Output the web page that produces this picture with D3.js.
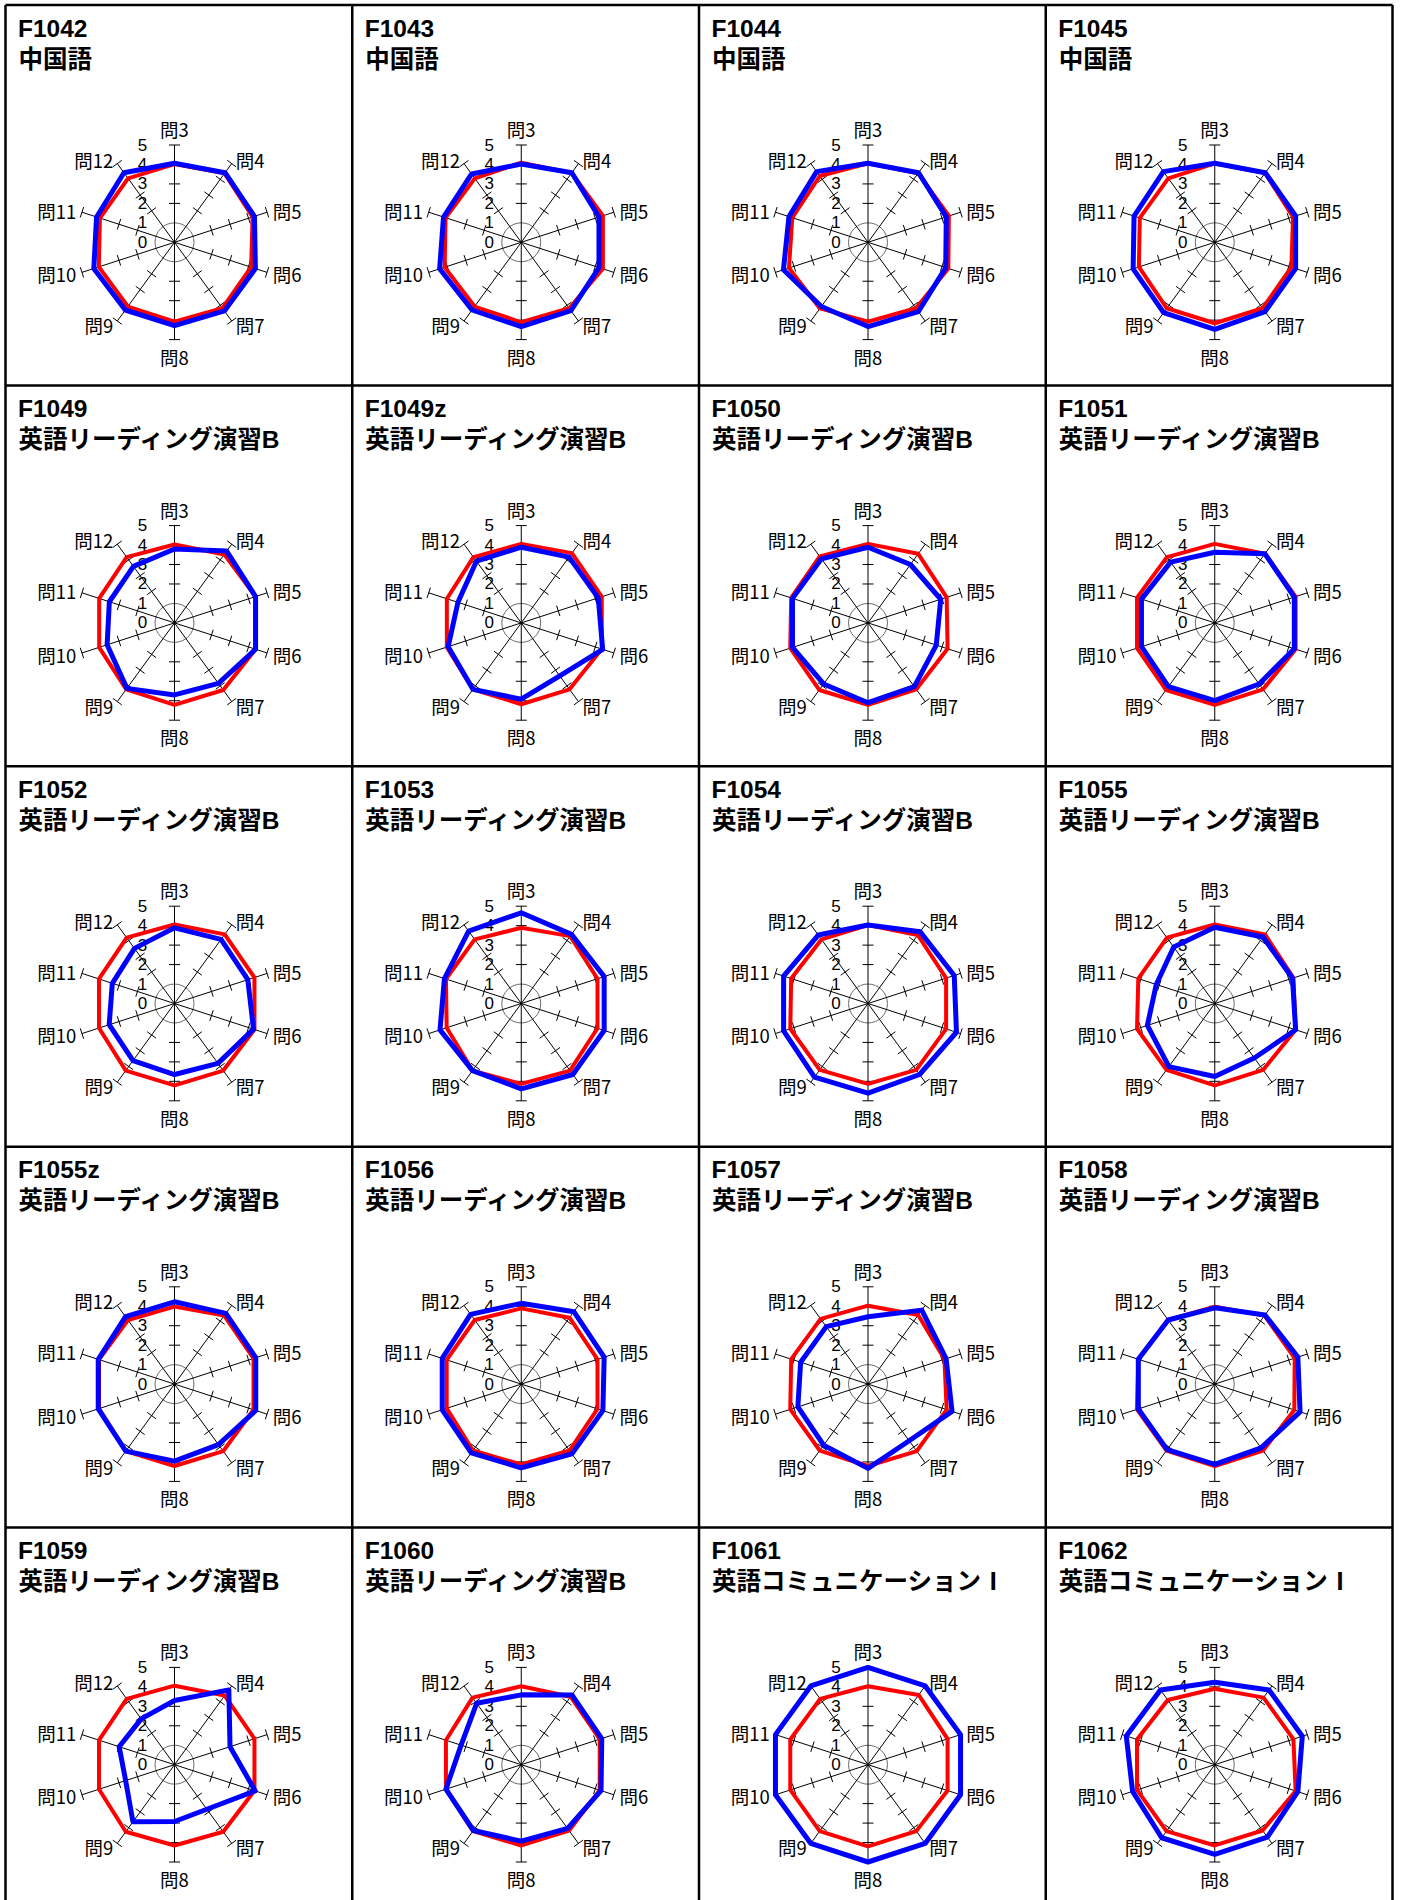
<!DOCTYPE html>
<html>
<head>
<meta charset="utf-8">
<script src="https://cdn.jsdelivr.net/npm/d3@7"></script>
<style>
  html, body { margin: 0; padding: 0; background: #fff; }
  svg { display: block; }
</style>
</head>
<body>
<div id="chart"></div>
<script>
// ---------- data ----------
const questions = ["問3", "問4", "問5", "問6", "問7", "問8", "問9", "問10", "問11", "問12"];
const scaleTicks = [0, 1, 2, 3, 4, 5];
const codes = ["F1042", "F1043", "F1044", "F1045",
               "F1049", "F1049z", "F1050", "F1051",
               "F1052", "F1053", "F1054", "F1055",
               "F1055z", "F1056", "F1057", "F1058",
               "F1059", "F1060", "F1061", "F1062"];
const courses = ["中国語", "中国語", "中国語", "中国語",
                 "英語リーディング演習B", "英語リーディング演習B", "英語リーディング演習B", "英語リーディング演習B",
                 "英語リーディング演習B", "英語リーディング演習B", "英語リーディング演習B", "英語リーディング演習B",
                 "英語リーディング演習B", "英語リーディング演習B", "英語リーディング演習B", "英語リーディング演習B",
                 "英語リーディング演習B", "英語リーディング演習B", "英語コミュニケーションⅠ", "英語コミュニケーションⅠ"];
// red series (問3..問12) per class
const redValues = [
  [4.02, 4.38, 4.22, 4.14, 4.19, 4.08, 4.08, 4.09, 4.03, 4.06],
  [4.09, 4.40, 4.41, 4.41, 4.19, 4.11, 4.08, 4.14, 4.09, 4.06],
  [4.06, 4.38, 4.37, 4.34, 4.19, 4.08, 4.20, 4.27, 4.09, 4.21],
  [4.06, 4.40, 4.23, 4.14, 4.19, 4.16, 4.19, 4.10, 4.05, 4.06],
  [4.03, 4.35, 4.38, 4.38, 4.26, 4.21, 4.22, 4.07, 4.07, 4.18],
  [4.06, 4.43, 4.35, 4.35, 4.22, 4.18, 4.22, 4.02, 4.02, 4.18],
  [4.06, 4.39, 4.25, 4.30, 4.22, 4.21, 4.26, 4.20, 4.15, 4.22],
  [4.06, 4.39, 4.37, 4.37, 4.22, 4.21, 4.26, 4.20, 4.20, 4.18],
  [4.06, 4.39, 4.32, 4.32, 4.26, 4.21, 4.26, 4.08, 4.08, 4.18],
  [3.89, 4.28, 4.12, 4.12, 4.26, 4.13, 4.26, 4.03, 4.07, 4.07],
  [4.03, 4.35, 4.22, 4.22, 4.22, 4.13, 4.22, 4.20, 4.15, 4.07],
  [4.06, 4.39, 4.25, 4.37, 4.22, 4.21, 4.22, 4.20, 4.13, 4.18],
  [3.98, 4.35, 4.27, 4.27, 4.26, 4.21, 4.26, 4.08, 4.08, 4.07],
  [3.89, 4.22, 4.12, 4.12, 4.22, 4.13, 4.22, 4.03, 4.03, 4.07],
  [4.03, 4.39, 4.13, 4.25, 4.26, 4.21, 4.22, 4.20, 4.15, 4.14],
  [3.98, 4.35, 4.32, 4.30, 4.22, 4.21, 4.22, 4.20, 4.13, 4.07],
  [4.06, 4.39, 4.32, 4.32, 4.26, 4.15, 4.26, 4.08, 4.08, 4.18],
  [4.03, 4.32, 4.24, 4.24, 4.18, 4.15, 4.22, 4.07, 4.07, 4.26],
  [4.03, 4.43, 4.30, 4.30, 4.22, 4.20, 4.22, 4.20, 4.20, 4.18],
  [3.90, 4.26, 4.25, 4.37, 4.18, 4.15, 4.22, 4.20, 4.20, 4.11]
];
// blue series (問3..問12) per class
const blueValues = [
  [4.06, 4.42, 4.32, 4.37, 4.36, 4.28, 4.30, 4.36, 4.21, 4.42],
  [4.02, 4.42, 4.20, 4.20, 4.34, 4.33, 4.30, 4.41, 4.20, 4.34],
  [4.06, 4.42, 4.23, 4.20, 4.40, 4.33, 4.08, 4.57, 4.27, 4.49],
  [4.06, 4.42, 4.37, 4.37, 4.40, 4.47, 4.47, 4.41, 4.36, 4.49],
  [3.80, 4.56, 4.38, 4.38, 3.84, 3.70, 4.16, 3.64, 3.52, 3.59],
  [3.89, 4.18, 4.16, 4.40, 3.37, 3.92, 4.22, 3.95, 3.42, 3.92],
  [3.89, 3.71, 3.93, 3.69, 4.05, 4.10, 3.88, 4.08, 4.08, 4.07],
  [3.63, 4.39, 4.30, 4.30, 3.88, 3.99, 4.05, 3.96, 3.96, 3.86],
  [3.89, 4.07, 3.96, 4.27, 3.80, 3.65, 3.63, 3.53, 3.36, 3.50],
  [4.66, 4.39, 4.48, 4.48, 4.51, 4.39, 4.26, 4.39, 4.15, 4.60],
  [4.03, 4.56, 4.66, 4.78, 4.51, 4.61, 4.68, 4.56, 4.56, 4.35],
  [3.92, 4.22, 4.20, 4.37, 3.46, 3.75, 4.01, 3.64, 3.16, 3.59],
  [4.23, 4.49, 4.39, 4.39, 3.84, 3.96, 4.26, 4.12, 4.12, 4.28],
  [4.15, 4.60, 4.48, 4.41, 4.43, 4.30, 4.37, 4.27, 4.27, 4.43],
  [3.46, 4.70, 4.22, 4.54, 3.60, 4.33, 3.88, 3.79, 3.64, 3.65],
  [3.92, 4.39, 4.49, 4.61, 4.05, 4.13, 4.16, 4.13, 4.13, 4.07],
  [3.30, 4.75, 3.00, 4.36, 2.83, 2.92, 3.63, 2.64, 2.99, 2.91],
  [3.59, 4.43, 4.35, 4.31, 4.05, 3.93, 4.18, 4.07, 3.25, 3.90],
  [5.00, 5.00, 5.00, 5.00, 5.00, 5.00, 5.00, 5.00, 5.00, 5.00],
  [4.24, 4.75, 4.73, 4.49, 4.60, 4.61, 4.64, 4.44, 4.78, 4.75]
];

// ---------- layout ----------
const W = 1401, H = 1900;
const nCols = 4, nRows = 5;
const gridLeft = 5.5, gridTop = 5;
const cellW = 346.75, cellH = 380.6;
const centerDX = 169, centerDY = 237.3;
const R = 97.3;

const svg = d3.select("#chart").append("svg")
  .attr("width", W).attr("height", H)
  .attr("viewBox", `0 0 ${W} ${H}`);

svg.append("rect").attr("width", W).attr("height", H).attr("fill", "#fff");

const r = d3.scaleLinear().domain([0, 5]).range([0, R]);
const ang = d3.scaleLinear().domain([0, questions.length]).range([0, 2 * Math.PI]);

const radarLine = d3.lineRadial()
  .angle((d, i) => ang(i))
  .radius(d => r(d))
  .curve(d3.curveLinearClosed);

const labelFont = "'Noto Sans CJK JP', 'Noto Sans', sans-serif";
const numFont = "'Liberation Sans Narrow', 'Liberation Sans', sans-serif";
const titleFont = "'Liberation Sans', Arial, 'Noto Sans CJK JP', sans-serif";

codes.forEach((code, k) => {
  const col = k % nCols, row = Math.floor(k / nCols);
  const x0 = gridLeft + col * cellW, y0 = gridTop + row * cellH;
  const g = svg.append("g").attr("transform", `translate(${x0},${y0})`);

  // titles
  g.append("text").attr("x", 12.5).attr("y", 31.7)
    .attr("font-family", titleFont).attr("font-weight", "bold")
    .attr("font-size", 24.5).attr("fill", "#000").text(code);
  g.append("text").attr("x", 13).attr("y", 62.5)
    .attr("font-family", titleFont).attr("font-weight", "bold")
    .attr("font-size", 24.5).attr("fill", "#000").text(courses[k]);

  const c = g.append("g").attr("transform", `translate(${centerDX},${centerDY})`);

  // inner circle at 1
  c.append("circle").attr("r", r(1)).attr("fill", "none")
    .attr("stroke", "#6a6a6a").attr("stroke-width", 1);

  // axes + ticks
  questions.forEach((q, i) => {
    const a = ang(i);
    const dx = Math.sin(a), dy = -Math.cos(a);
    c.append("line").attr("x1", 0).attr("y1", 0)
      .attr("x2", r(5) * dx).attr("y2", r(5) * dy)
      .attr("stroke", "#000").attr("stroke-width", 1);
    [2, 3, 4, 5].forEach(v => {
      const px = r(v) * dx, py = r(v) * dy;
      const tx = Math.cos(a) * 5.5, ty = Math.sin(a) * 5.5;
      c.append("line")
        .attr("x1", px - tx).attr("y1", py - ty)
        .attr("x2", px + tx).attr("y2", py + ty)
        .attr("stroke", "#000").attr("stroke-width", 1);
    });
    // axis label
    let lx, ly, anchor;
    if (i === 0) { lx = 0; ly = -r(5) - 16; anchor = "middle"; }
    else if (i === 5) { lx = 0; ly = r(5) + 17; anchor = "middle"; }
    else {
      lx = (r(5) + 5) * dx + (dx > 0 ? 1 : -1);
      ly = (r(5) + 5) * dy;
      anchor = dx > 0 ? "start" : "end";
    }
    c.append("text").attr("x", lx).attr("y", ly)
      .attr("text-anchor", anchor).attr("dominant-baseline", "central")
      .attr("font-family", labelFont).attr("font-size", 18.5)
      .attr("fill", "#000").text(q);
  });

  // scale numbers
  scaleTicks.forEach(v => {
    c.append("text").attr("x", -32).attr("y", -r(v))
      .attr("text-anchor", "middle").attr("dominant-baseline", "central")
      .attr("font-family", numFont).attr("font-size", 17)
      .attr("fill", "#000").text(v);
  });

  // series
  c.append("path").attr("d", radarLine(redValues[k]))
    .attr("fill", "none").attr("stroke", "#ff0000")
    .attr("stroke-width", 4).attr("stroke-linejoin", "round");
  c.append("path").attr("d", radarLine(blueValues[k]))
    .attr("fill", "none").attr("stroke", "#0000ff")
    .attr("stroke-width", 5).attr("stroke-linejoin", "round");
});

// grid lines
const gridG = svg.append("g");
d3.range(nCols + 1).forEach(i => {
  gridG.append("line")
    .attr("x1", gridLeft + i * cellW).attr("x2", gridLeft + i * cellW)
    .attr("y1", gridTop).attr("y2", gridTop + nRows * cellH)
    .attr("stroke", "#000").attr("stroke-width", 2.5);
});
d3.range(nRows + 1).forEach(j => {
  gridG.append("line")
    .attr("x1", gridLeft).attr("x2", gridLeft + nCols * cellW)
    .attr("y1", gridTop + j * cellH).attr("y2", gridTop + j * cellH)
    .attr("stroke", "#000").attr("stroke-width", 2.5);
});
</script>
</body>
</html>
